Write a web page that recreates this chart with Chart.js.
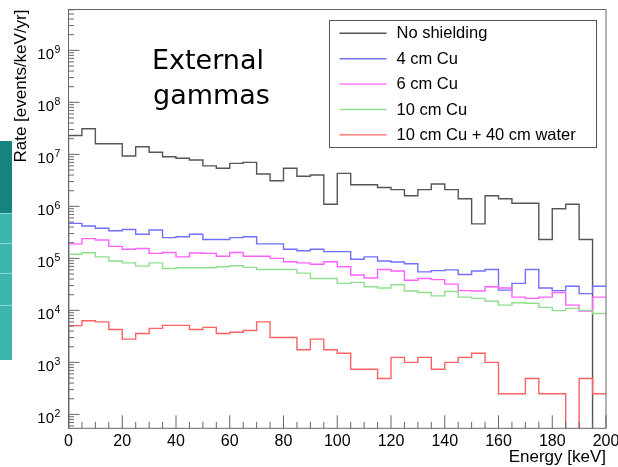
<!DOCTYPE html>
<html>
<head>
<meta charset="utf-8">
<script src="https://cdn.jsdelivr.net/npm/chart.js@4.4.1/dist/chart.umd.min.js"></script>
<style>
  html, body { margin: 0; padding: 0; background: #fff; }
  canvas { display: block; }
</style>
</head>
<body>
<canvas id="grafico" width="618" height="467"></canvas>
<script>
// bin low edges in keV (5 keV bins)
const energyKeV = [0, 5, 10, 15, 20, 25, 30, 35, 40, 45, 50, 55, 60, 65, 70, 75, 80, 85, 90, 95,
  100, 105, 110, 115, 120, 125, 130, 135, 140, 145, 150, 155, 160, 165, 170, 175, 180, 185, 190, 195];

// rates in events/keV/yr (0 = empty bin)
const noShielding = [2.3e7, 3.1e7, 1.6e7, 1.6e7, 9.3e6, 1.4e7, 1.1e7, 9.0e6, 8.4e6, 7.8e6,
  6.0e6, 5.4e6, 6.7e6, 7.0e6, 4.2e6, 3.1e6, 5.4e6, 3.8e6, 4.0e6, 1.1e6,
  4.3e6, 2.6e6, 2.6e6, 2.3e6, 2.1e6, 1.6e6, 2.1e6, 2.7e6, 2.1e6, 1.4e6,
  4.6e5, 1.6e6, 1.4e6, 1.15e6, 1.15e6, 2.3e5, 9.0e5, 1.1e6, 2.3e5, 0];
const cu4 = [4.7e5, 4.2e5, 3.8e5, 3.4e5, 3.6e5, 2.9e5, 3.5e5, 2.5e5, 2.6e5, 2.9e5,
  2.3e5, 2.3e5, 2.5e5, 2.6e5, 1.9e5, 1.9e5, 1.5e5, 1.4e5, 1.5e5, 1.35e5,
  1.35e5, 9.6e4, 1.07e5, 8.9e4, 8.5e4, 7.9e4, 5.5e4, 5.8e4, 6.0e4, 4.9e4,
  5.7e4, 6.1e4, 2.45e4, 3.3e4, 6.1e4, 2.7e4, 2.4e4, 2.9e4, 2.1e4, 2.9e4];
const cu6 = [1.9e5, 2.4e5, 2.25e5, 1.7e5, 1.5e5, 1.55e5, 1.25e5, 1.3e5, 1.07e5, 1.27e5,
  1.25e5, 1.1e5, 1.3e5, 1.1e5, 1.1e5, 1.0e5, 8.6e4, 8.2e4, 7.7e4, 8.6e4,
  6.9e4, 4.8e4, 4.2e4, 6.1e4, 5.7e4, 3.8e4, 4.1e4, 3.9e4, 3.2e4, 2.4e4,
  2.35e4, 2.85e4, 2.7e4, 1.8e4, 1.7e4, 1.8e4, 2.2e4, 1.26e4, 9.7e3, 1.8e4];
const cu10 = [1.2e5, 1.28e5, 1.07e5, 8.9e4, 8.2e4, 7.1e4, 8.2e4, 6.4e4, 6.6e4, 6.6e4,
  6.6e4, 6.9e4, 7.2e4, 6.7e4, 6.1e4, 6.1e4, 6.1e4, 5.2e4, 4.1e4, 4.1e4,
  3.3e4, 3.45e4, 2.85e4, 2.7e4, 3.1e4, 2.35e4, 2.2e4, 1.9e4, 2.3e4, 1.8e4,
  1.7e4, 1.5e4, 1.26e4, 1.4e4, 1.37e4, 1.14e4, 9.9e3, 1.09e4, 1.0e4, 8.7e3];
const cu10Water = [5.1e3, 6.3e3, 6.0e3, 4.3e3, 2.8e3, 3.6e3, 4.5e3, 5.15e3, 5.15e3, 4.3e3,
  4.7e3, 3.6e3, 3.8e3, 4.1e3, 6.0e3, 3.0e3, 3.0e3, 1.75e3, 2.8e3, 1.75e3,
  1.5e3, 740, 740, 490, 1.25e3, 1.0e3, 1.25e3, 740, 1.0e3, 1.25e3,
  1.5e3, 1.0e3, 250, 250, 490, 250, 250, 0, 490, 250];

const seriesNames = ['No shielding', '4 cm Cu', '6 cm Cu', '10 cm Cu', '10 cm Cu + 40 cm water'];
const seriesColors = ['#555555', '#7070ff', '#ff60ff', '#8fdf8f', '#ff6262'];

const xTicks = [0, 20, 40, 60, 80, 100, 120, 140, 160, 180, 200];
const yDecades = [2, 3, 4, 5, 6, 7, 8, 9];

const xMin = 0, xMax = 200, binWidth = 5;
const yMin = 54, yMax = 6.1e9;
const FLOOR = 1; // empty bins go below the axis

const fontAxis = '"Liberation Sans", Arial, sans-serif';

// builds step outline like ROOT's HIST
function histPoints(values) {
  const pts = [{ x: energyKeV[0], y: FLOOR }];
  values.forEach(function (v, i) {
    pts.push({ x: energyKeV[i], y: v > 0 ? v : FLOOR });
  });
  const last = values[values.length - 1];
  pts.push({ x: energyKeV[energyKeV.length - 1] + binWidth, y: last > 0 ? last : FLOOR });
  return pts;
}

const allSeries = [noShielding, cu4, cu6, cu10, cu10Water];
const drawOrder = [5, 4, 3, 2, 1];

const datasets = allSeries.map(function (vals, i) {
  return {
    label: seriesNames[i],
    data: histPoints(vals),
    borderColor: seriesColors[i],
    borderWidth: 1.4,
    pointRadius: 0,
    stepped: 'before',
    fill: false,
    order: drawOrder[i]
  };
});

// fondo, marco, ticks, textos y leyenda
const rootStyle = {
  id: 'rootStyle',
  beforeDraw: function (chart) {
    const ctx = chart.ctx;
    ctx.save();
    ctx.fillStyle = '#fff';
    ctx.fillRect(0, 0, chart.width, chart.height);
    // slide strip on the left
    ctx.fillStyle = '#18837e';
    ctx.fillRect(0, 141, 12, 72);
    ctx.fillStyle = '#3eb4af';
    ctx.fillRect(0, 213, 12, 147);
    ctx.fillStyle = '#8fd6d2';
    [213, 243, 273, 305].forEach(function (y) { ctx.fillRect(0, y, 12, 1); });
    ctx.restore();
  },
  afterDraw: function (chart) {
    const ctx = chart.ctx;
    const a = chart.chartArea;
    const xs = chart.scales.x, ys = chart.scales.y;
    ctx.save();

    // frame
    ctx.strokeStyle = '#666';
    ctx.lineWidth = 1;
    ctx.strokeRect(a.left, a.top, a.right - a.left, a.bottom - a.top);

    // x ticks
    ctx.beginPath();
    for (let e = xMin; e <= xMax; e += binWidth) {
      const px = xs.getPixelForValue(e);
      const len = (e % 20 === 0) ? 13 : 6.5;
      ctx.moveTo(px, a.bottom);
      ctx.lineTo(px, a.bottom - len);
    }
    // y ticks
    for (let d = 1; d <= 9; d++) {
      for (let m = 1; m <= 9; m++) {
        const v = m * Math.pow(10, d);
        if (v < yMin || v > yMax) continue;
        const py = ys.getPixelForValue(v);
        const len = (m === 1) ? 11 : 5.5;
        ctx.moveTo(a.left, py);
        ctx.lineTo(a.left + len, py);
      }
    }
    ctx.stroke();

    // tick labels
    ctx.fillStyle = '#000';
    ctx.font = '16px ' + fontAxis;
    ctx.textAlign = 'center';
    ctx.textBaseline = 'alphabetic';
    xTicks.forEach(function (t) {
      ctx.fillText(String(t), xs.getPixelForValue(t), 445.5);
    });
    yDecades.forEach(function (d) {
      const py = ys.getPixelForValue(Math.pow(10, d));
      ctx.font = '15px ' + fontAxis;
      ctx.textAlign = 'right';
      ctx.fillText('10', 54, py + 8.5);
      ctx.font = '10.5px ' + fontAxis;
      ctx.textAlign = 'left';
      ctx.fillText(String(d), 54.5, py + 2.5);
    });

    // axis titles
    ctx.font = '17px ' + fontAxis;
    ctx.textAlign = 'right';
    ctx.fillText('Energy [keV]', a.right, 461.5);
    ctx.save();
    ctx.translate(25.5, a.top);
    ctx.rotate(-Math.PI / 2);
    ctx.textAlign = 'right';
    ctx.fillText('Rate [events/keV/yr]', 0, 0);
    ctx.restore();

    // label
    ctx.font = '27px "DejaVu Sans", sans-serif';
    ctx.textAlign = 'left';
    ctx.fillText('External', 152, 68.5);
    ctx.fillText('gammas', 153, 104);

    // legend box
    const lx = 329.5, ly = 20.5, lw = 267, lh = 127;
    ctx.fillStyle = '#fff';
    ctx.fillRect(lx, ly, lw, lh);
    ctx.strokeStyle = '#555';
    ctx.strokeRect(lx, ly, lw, lh);
    ctx.font = '16.5px ' + fontAxis;
    ctx.textBaseline = 'middle';
    seriesNames.forEach(function (name, i) {
      const ry = 33.3 + i * 25.4;
      ctx.strokeStyle = seriesColors[i];
      ctx.lineWidth = 1.4;
      ctx.beginPath();
      ctx.moveTo(339.5, ry);
      ctx.lineTo(386.5, ry);
      ctx.stroke();
      ctx.fillStyle = '#000';
      ctx.fillText(name, 396.5, ry + 0.5);
    });
    ctx.restore();
  }
};

new Chart(document.getElementById('grafico'), {
  type: 'line',
  data: { datasets: datasets },
  options: {
    responsive: false,
    animation: false,
    devicePixelRatio: 1,
    layout: { padding: { left: 68.5, right: 12, top: 9.5, bottom: 38.7 } },
    plugins: { legend: { display: false }, tooltip: { enabled: false } },
    scales: {
      x: { type: 'linear', min: xMin, max: xMax, display: false },
      y: { type: 'logarithmic', min: yMin, max: yMax, display: false }
    }
  },
  plugins: [rootStyle]
});
</script>
</body>
</html>
